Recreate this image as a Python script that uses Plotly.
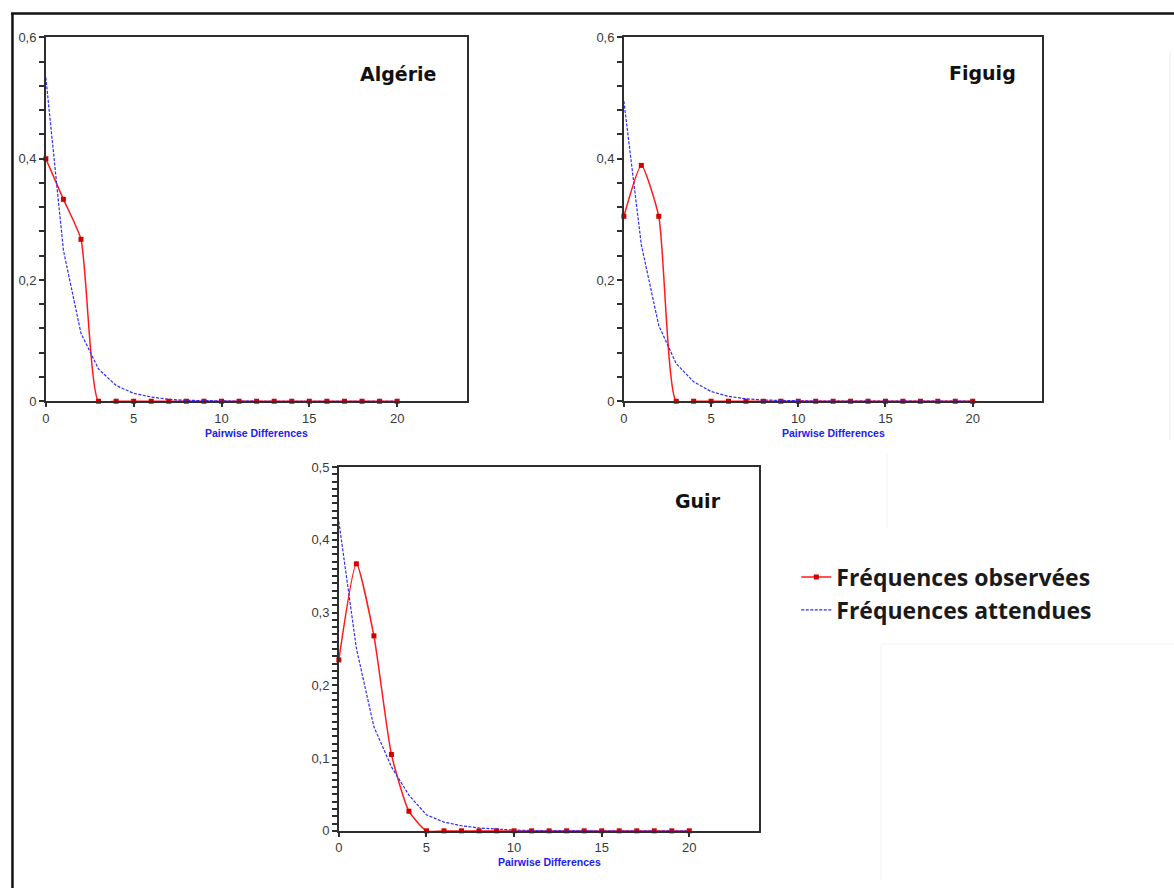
import plotly.graph_objects as go

# Mismatch distributions (pairwise differences) for three populations
diffs = [0, 1, 2, 3, 4, 5, 6, 7, 8, 9, 10, 11, 12, 13, 14, 15, 16, 17, 18, 19, 20]

algerie_obs = [0.400, 0.333, 0.267, 0, 0, 0, 0, 0, 0, 0, 0, 0, 0, 0, 0, 0, 0, 0, 0, 0, 0]
algerie_exp = [0.534, 0.249, 0.112, 0.053, 0.026, 0.013, 0.007, 0.003, 0.0015, 0.0007,
               0.0003, 0.0001, 0, 0, 0, 0, 0, 0, 0, 0, 0]

figuig_obs = [0.305, 0.389, 0.305, 0, 0, 0, 0, 0, 0, 0, 0, 0, 0, 0, 0, 0, 0, 0, 0, 0, 0]
figuig_exp = [0.495, 0.258, 0.125, 0.062, 0.032, 0.016, 0.008, 0.004, 0.002, 0.001,
              0.0005, 0.0002, 0.0001, 0, 0, 0, 0, 0, 0, 0, 0]

guir_obs = [0.235, 0.367, 0.268, 0.105, 0.027, 0, 0, 0, 0, 0, 0, 0, 0, 0, 0, 0, 0, 0, 0, 0, 0]
guir_exp = [0.425, 0.251, 0.143, 0.088, 0.049, 0.022, 0.012, 0.007, 0.004, 0.002,
            0.001, 0.0005, 0.0002, 0.0001, 0, 0, 0, 0, 0, 0, 0]

panel_names = ["Algérie", "Figuig", "Guir"]
x_ticks = [0, 5, 10, 15, 20]
legend_obs = "Fréquences observées"
legend_exp = "Fréquences attendues"
axis_title = "Pairwise Differences"

W, H = 1174, 888

# panel boxes in pixels: (left, right, top, bottom)
boxes = [(42, 465, 31, 401), (622, 1042, 31, 401), (336, 758, 468, 838)]
y_max = [0.6, 0.6, 0.5]
y_major = [0.2, 0.2, 0.1]
y_minor = [0.04, 0.04, 0.01]
title_pos = [(22.3, 0.540), (22.6, 0.541), (21.95, 0.454)]

obs_sets = [algerie_obs, figuig_obs, guir_obs]
exp_sets = [algerie_exp, figuig_exp, guir_exp]

RED = "#ff1a1a"
BLUE = "#2b2bff"
AXIS = "#2e2e2e"
TICKFONT = dict(family="Liberation Sans, Arial, sans-serif", size=13, color="#3a3a3a")

fig = go.Figure()
layout = {}
annotations = []

for i in range(3):
    n = "" if i == 0 else str(i + 1)
    xa, ya = "x" + n, "y" + n
    show = i == 0
    fig.add_trace(go.Scatter(
        x=diffs, y=obs_sets[i], xaxis=xa, yaxis=ya, name=legend_obs,
        mode="lines+markers",
        line=dict(color=RED, width=1.5, shape="spline", smoothing=0.55),
        marker=dict(symbol="square", size=5, color="#d10000"),
        showlegend=show, legendgroup="obs", cliponaxis=False,
    ))
    fig.add_trace(go.Scatter(
        x=diffs, y=exp_sets[i], xaxis=xa, yaxis=ya, name=legend_exp,
        mode="lines", line=dict(color=BLUE, width=1.2, dash="3px,1.5px"),
        showlegend=show, legendgroup="exp",
    ))

    l, r, t, b = boxes[i]
    layout["xaxis" + n] = dict(
        domain=[l / W, r / W], anchor=ya, range=[0, 24], tickvals=x_ticks,
        ticks="outside", ticklen=4, tickcolor=AXIS, tickwidth=1.5,
        showline=True, linecolor=AXIS, linewidth=1.6, mirror=True,
        showgrid=False, zeroline=False, tickfont=TICKFONT, fixedrange=True,
    )
    layout["yaxis" + n] = dict(
        domain=[1 - b / H, 1 - t / H], anchor=xa, range=[0, y_max[i]],
        dtick=y_major[i], tick0=0, ticks="outside", ticklen=5, tickcolor=AXIS,
        tickwidth=1.5,
        minor=dict(dtick=y_minor[i], tick0=0, ticks="outside", ticklen=5,
                   tickcolor=AXIS, tickwidth=1.5, showgrid=False),
        showline=True, linecolor=AXIS, linewidth=1.6, mirror=True,
        showgrid=False, zeroline=False, tickfont=TICKFONT, fixedrange=True,
    )

    annotations.append(dict(
        text=axis_title, xref=xa + " domain", yref=ya + " domain",
        x=0.5, y=-32 / (b - t), xanchor="center", yanchor="middle",
        showarrow=False,
        font=dict(family="Liberation Sans, Arial, sans-serif", size=10.5,
                  color="#2020f0", weight="bold"),
    ))
    tx, ty = title_pos[i]
    annotations.append(dict(
        text=panel_names[i], xref=xa, yref=ya, x=tx, y=ty,
        xanchor="right", yanchor="middle", showarrow=False,
        font=dict(family="DejaVu Sans, sans-serif", size=19, color="#111111",
                  weight="bold"),
    ))

# outer frame and faint panel edges of the composed figure
shapes = [
    dict(type="line", xref="paper", yref="paper", x0=8.5 / W, x1=8.5 / W,
         y0=1 - 6 / H, y1=-0.01, line=dict(color="#111111", width=2.5)),
    dict(type="line", xref="paper", yref="paper", x0=7 / W, x1=1.01,
         y0=1 - 6.5 / H, y1=1 - 6.5 / H, line=dict(color="#111111", width=2.5)),
    dict(type="line", xref="paper", yref="paper", x0=1170 / W, x1=1170 / W,
         y0=1 - 45 / H, y1=1 - 440 / H, line=dict(color="#ececec", width=1)),
    dict(type="line", xref="paper", yref="paper", x0=880 / W, x1=880 / W,
         y0=1 - 648 / H, y1=0, line=dict(color="#f2f2f2", width=1)),
    dict(type="line", xref="paper", yref="paper", x0=880 / W, x1=1,
         y0=1 - 648 / H, y1=1 - 648 / H, line=dict(color="#f2f2f2", width=1)),
    dict(type="line", xref="paper", yref="paper", x0=886 / W, x1=886 / W,
         y0=1 - 455 / H, y1=1 - 530 / H, line=dict(color="#f2f2f2", width=1)),
]

fig.update_layout(
    width=W, height=H,
    margin=dict(l=0, r=0, t=0, b=0),
    paper_bgcolor="white", plot_bgcolor="white",
    separators=", ",
    annotations=annotations,
    shapes=shapes,
    legend=dict(
        x=795 / W, y=1 - 558 / H, xanchor="left", yanchor="top",
        font=dict(family="Open Sans, sans-serif", size=23, color="#1a1a1a",
                  weight="bold"),
        bgcolor="rgba(0,0,0,0)", traceorder="grouped", tracegroupgap=0,
        itemwidth=30,
    ),
    **layout,
)

fig.write_html("out.html")
